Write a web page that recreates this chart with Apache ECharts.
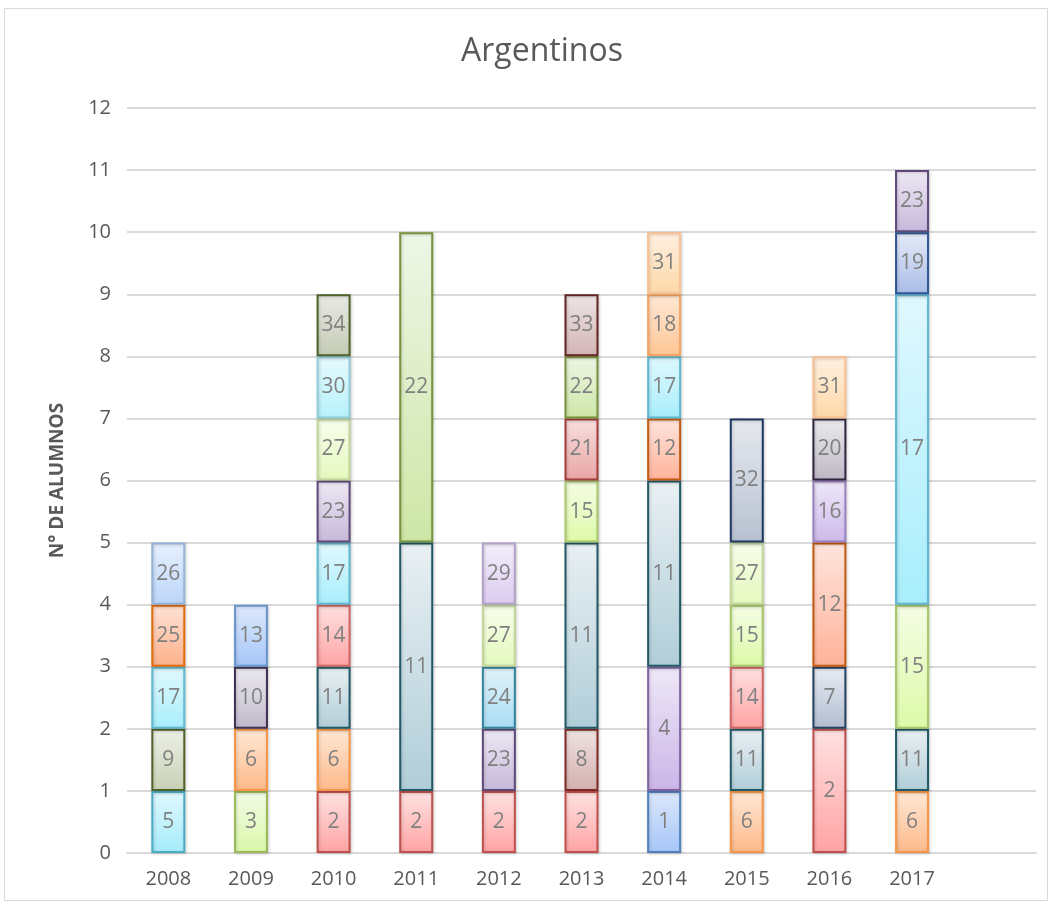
<!DOCTYPE html>
<html>
<head>
<meta charset="utf-8">
<title>Argentinos</title>
<script src="https://cdn.jsdelivr.net/npm/echarts@6/dist/echarts.min.js"></script>
<style>
  html, body { margin: 0; padding: 0; background: #fff; }
  #chart { width: 1053px; height: 908px; }
</style>
</head>
<body>
<div id="chart"></div>
<script>
// categorias (la ultima vacia, como en el Excel)
var years = ['2008', '2009', '2010', '2011', '2012', '2013', '2014', '2015', '2016', '2017', '']
var yTicks = [0, 1, 2, 3, 4, 5, 6, 7, 8, 9, 10, 11, 12]

// por año: [numero de curso, alumnos], de abajo hacia arriba
var y2008 = [[5, 1], [9, 1], [17, 1], [25, 1], [26, 1]]
var y2009 = [[3, 1], [6, 1], [10, 1], [13, 1]]
var y2010 = [[2, 1], [6, 1], [11, 1], [14, 1], [17, 1], [23, 1], [27, 1], [30, 1], [34, 1]]
var y2011 = [[2, 1], [11, 4], [22, 5]]
var y2012 = [[2, 1], [23, 1], [24, 1], [27, 1], [29, 1]]
var y2013 = [[2, 1], [8, 1], [11, 3], [15, 1], [21, 1], [22, 1], [33, 1]]
var y2014 = [[1, 1], [4, 2], [11, 3], [12, 1], [17, 1], [18, 1], [31, 1]]
var y2015 = [[6, 1], [11, 1], [14, 1], [15, 1], [27, 1], [32, 2]]
var y2016 = [[2, 2], [7, 1], [12, 2], [16, 1], [20, 1], [31, 1]]
var y2017 = [[6, 1], [11, 1], [15, 2], [17, 5], [19, 1], [23, 1]]
var byYear = [y2008, y2009, y2010, y2011, y2012, y2013, y2014, y2015, y2016, y2017]

// colores: [borde, arriba, abajo]
var colors = {
    1: ['#4F81BD', '#DCE8FC', '#A6C5F8'],
    2: ['#C0504D', '#FFE2E2', '#FFA3A3'],
    3: ['#9BBB59', '#F3FBE8', '#DAF7A8'],
    4: ['#8064A2', '#EEE8F8', '#CBB5E8'],
    5: ['#4BACC6', '#E0F8FE', '#A5EBFA'],
    6: ['#F79646', '#FFE8D5', '#FDB98A'],
    7: ['#254061', '#E8ECF3', '#B2BDD0'],
    8: ['#7F2A26', '#F0E2E2', '#D3B0AE'],
    9: ['#4F6228', '#EDF0E6', '#C7D0B5'],
    10: ['#3F3151', '#ECEAF0', '#BFB8CB'],
    11: ['#215967', '#E9F0F3', '#B0CDD8'],
    12: ['#C55A11', '#FFE5DD', '#FFB299'],
    13: ['#6A96CD', '#DDE9FC', '#A6C6F8'],
    14: ['#D06565', '#FFE0E0', '#FFA4A4'],
    15: ['#A8C86A', '#F5FDE5', '#DDFAA8'],
    16: ['#9B82C0', '#EEE8F8', '#CDB8EA'],
    17: ['#5EB8D0', '#E0F8FE', '#A8EEFC'],
    18: ['#F7A260', '#FFE8D6', '#FDC693'],
    19: ['#2F5597', '#E6EBF7', '#A9BCE8'],
    20: ['#302540', '#EBEAED', '#BDB7C4'],
    21: ['#A33D3B', '#F8DEDE', '#E9A5A5'],
    22: ['#77933C', '#EEF6E6', '#CDE6A6'],
    23: ['#5F497A', '#EEE8F4', '#C6B8DA'],
    24: ['#31859C', '#E3F2FA', '#A8DCF2'],
    25: ['#E36C09', '#FFE2D5', '#FDB08A'],
    26: ['#95B3D7', '#E7F0FD', '#BCD5FA'],
    27: ['#C3D69B', '#F8FDEB', '#E4F9BD'],
    29: ['#B3A2C7', '#F4EEFB', '#DCCBF0'],
    30: ['#92CDDC', '#E6FAFE', '#B7F1FC'],
    31: ['#FAC090', '#FFF0E0', '#FDD8A8'],
    32: ['#1F3864', '#E6E9EF', '#B8C1D1'],
    33: ['#632523', '#EEE5E5', '#D2B4B4'],
    34: ['#4F6228', '#E8EAE3', '#C5CBB5']
}

var ids = Object.keys(colors).map(Number).sort(function (a, b) { return a - b })

var series = ids.map(function (id) {
    var c = colors[id]
    var data = years.map(function (y, i) {
        var list = byYear[i] || []
        var found = list.filter(function (p) { return p[0] === id })
        return found.length ? found[0][1] : '-'
    })
    return {
        name: String(id),
        type: 'bar',
        stack: 'total',
        barWidth: 34,
        data: data,
        itemStyle: {
            color: new echarts.graphic.LinearGradient(0, 0, 0, 1, [
                { offset: 0, color: c[1] },
                { offset: 1, color: c[2] }
            ]),
            borderColor: c[0],
            borderWidth: 2,
            shadowColor: 'rgba(0,0,0,0.18)',
            shadowBlur: 3,
            shadowOffsetX: 1,
            shadowOffsetY: 1
        },
        label: {
            show: true,
            position: 'inside',
            formatter: '{a}',
            color: '#808080',
            fontFamily: 'Open Sans',
            fontSize: 21
        }
    }
})

var myChart = echarts.init(document.getElementById('chart'))
var option = {
    animation: false,
    backgroundColor: '#fff',
    title: {
        text: 'Argentinos',
        left: 456,
        top: 31,
        textStyle: {
            color: '#595959',
            fontFamily: 'Open Sans',
            fontWeight: 'normal',
            fontSize: 32
        }
    },
    graphic: [{
        type: 'rect',
        shape: { x: 4.5, y: 8.5, width: 1043, height: 892 },
        style: { fill: 'none', stroke: '#D9D9D9', lineWidth: 1 },
        silent: true
    }],
    grid: {
        left: 127,
        right: 17,
        top: 108,
        bottom: 55
    },
    xAxis: {
        type: 'category',
        data: years,
        axisTick: { show: false },
        axisLine: { show: true, lineStyle: { color: '#D9D9D9', width: 2 } },
        axisLabel: {
            color: '#595959',
            fontFamily: 'Open Sans',
            fontSize: 20,
            margin: 16
        }
    },
    yAxis: {
        type: 'value',
        min: yTicks[0],
        max: yTicks[yTicks.length - 1],
        interval: 1,
        name: 'N° DE ALUMNOS',
        nameLocation: 'middle',
        nameGap: 60,
        nameRotate: 90,
        nameTextStyle: {
            color: '#595959',
            fontFamily: 'Open Sans',
            fontWeight: 'bold',
            fontSize: 19
        },
        axisLine: { show: false },
        axisTick: { show: false },
        axisLabel: {
            color: '#595959',
            fontFamily: 'Open Sans',
            fontSize: 20,
            margin: 16
        },
        splitLine: { lineStyle: { color: '#D9D9D9', width: 2 } }
    },
    series: series
}
myChart.setOption(option)
</script>
</body>
</html>
